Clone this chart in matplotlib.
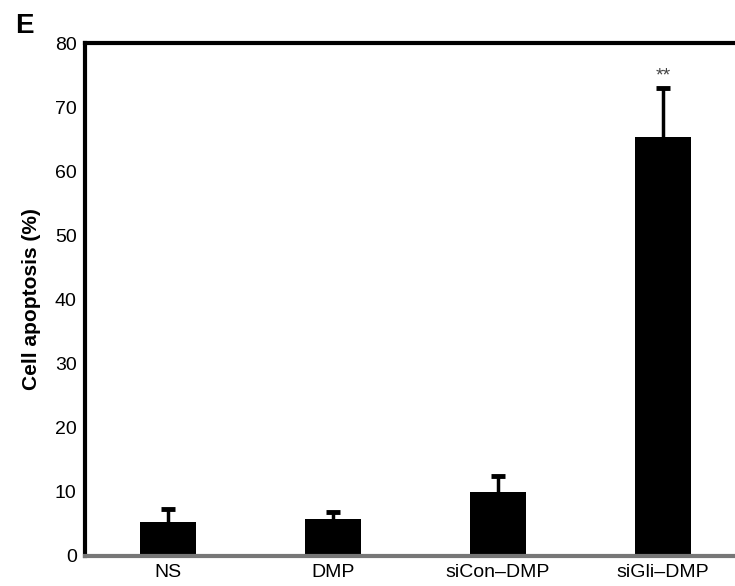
import matplotlib
matplotlib.use('Agg')
import matplotlib.pyplot as plt
import numpy as np

plt.rcParams['font.family'] = ['Liberation Sans', 'DejaVu Sans']

groups = ['NS', 'DMP', 'siCon\u2013DMP', 'siGli\u2013DMP']
apoptosis = np.array([5.3, 5.7, 10.0, 65.4])
err = np.array([2.0, 1.1, 2.5, 7.6])
marks = ['', '', '', '**']

fig = plt.figure(figsize=(7.35, 5.86), dpi=100)
ax = fig.add_axes([0.1156, 0.0512, 0.8844, 0.8754])

x = np.arange(len(groups))
ax.bar(x, apoptosis, width=0.34, color='black', zorder=2)
# upper error bars only
ax.vlines(x, apoptosis, apoptosis + err, color='black', lw=2.5, zorder=3)
ax.plot(x, apoptosis + err, ls='none', marker='_', ms=10, mew=3.5,
        color='black', zorder=3)
for xi, v, e, m in zip(x, apoptosis, err, marks):
    if m:
        ax.text(xi, v + e + 0.5, m, ha='center', va='bottom', fontsize=14,
                color='#444444')

ax.set_xlim(-0.503, 3.436)
ax.set_ylim(0, 80)
ax.set_yticks(range(0, 81, 10))
ax.set_xticks(x)
ax.set_xticklabels(groups)
ax.tick_params(length=0, labelsize=14, pad=6)
ax.set_ylabel('Cell apoptosis (%)', fontsize=15, fontweight='bold', labelpad=10)

ax.spines['right'].set_visible(False)
ax.spines['top'].set_linewidth(3)
ax.spines['left'].set_linewidth(3)
ax.spines['bottom'].set_color('#777777')
ax.spines['bottom'].set_linewidth(3)

fig.text(0.02, 0.955, 'E', fontsize=20, fontweight='bold', ha='left', va='center')

fig.savefig('out.png', dpi=100)
